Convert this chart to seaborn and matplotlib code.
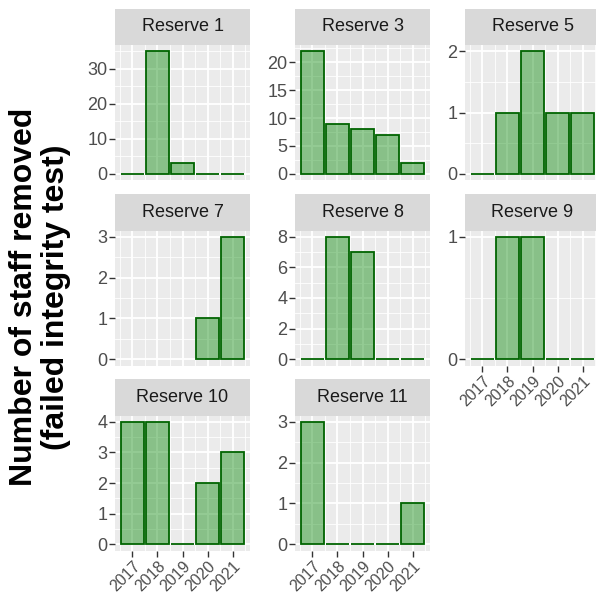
import numpy as np
import pandas as pd
import matplotlib
matplotlib.use("Agg")
import matplotlib.pyplot as plt
import seaborn as sns

plt.rcParams["font.family"] = ["Liberation Sans", "DejaVu Sans"]

# ---- data -------------------------------------------------------------
years = [2017, 2018, 2019, 2020, 2021]
reserves = ["Reserve 1", "Reserve 3", "Reserve 5", "Reserve 7",
            "Reserve 8", "Reserve 9", "Reserve 10", "Reserve 11"]

reserve_1 = [0, 35, 3, 0, 0]
reserve_3 = [22, 9, 8, 7, 2]
reserve_5 = [0, 1, 2, 1, 1]
reserve_7_years = [2020, 2021]
reserve_7 = [1, 3]
reserve_8 = [0, 8, 7, 0, 0]
reserve_9 = [0, 1, 1, 0, 0]
reserve_10 = [4, 4, 0, 2, 3]
reserve_11 = [3, 0, 0, 0, 1]

series = {
    "Reserve 1": (years, reserve_1),
    "Reserve 3": (years, reserve_3),
    "Reserve 5": (years, reserve_5),
    "Reserve 7": (reserve_7_years, reserve_7),
    "Reserve 8": (years, reserve_8),
    "Reserve 9": (years, reserve_9),
    "Reserve 10": (years, reserve_10),
    "Reserve 11": (years, reserve_11),
}

rows = []
for name in reserves:
    yrs, vals = series[name]
    for yr, v in zip(yrs, vals):
        rows.append({"reserve": name, "year": yr, "removed": v})
df = pd.DataFrame(rows)

# y-axis break spacing for each facet (free y scales)
y_step = {"Reserve 1": 10, "Reserve 3": 5, "Reserve 5": 1, "Reserve 7": 1,
          "Reserve 8": 2, "Reserve 9": 1, "Reserve 10": 1, "Reserve 11": 1}

# ---- layout (pixels) --------------------------------------------------
W, H = 596, 598
fig = plt.figure(figsize=(W / 100, H / 100), dpi=100)
fig.patch.set_facecolor("white")

col_left = [115, 295, 465]
panel_w = 135
row_top = [45, 230.5, 415.5]
panel_h = 135
strip_h = 36.5

fill_rgba = (0.0, 0.52, 0.0, 0.42)
edge_col = "#006400"
bg = "#EBEBEB"

bottom_panels = {"Reserve 9", "Reserve 10", "Reserve 11"}

for i, name in enumerate(reserves):
    r, c = divmod(i, 3)
    x0 = col_left[c]
    y0 = row_top[r]
    ax = fig.add_axes([x0 / W, 1 - (y0 + panel_h) / H, panel_w / W, panel_h / H])
    sub = df[df["reserve"] == name]
    sns.barplot(data=sub, x="year", y="removed", native_scale=True, ax=ax,
                width=0.9, color="green", errorbar=None, zorder=3)
    for p in ax.patches:
        p.set_facecolor(fill_rgba)
        p.set_edgecolor(edge_col)
        p.set_linewidth(1.3)

    ymax = sub["removed"].max()
    ax.set_ylim(-0.05 * ymax, 1.05 * ymax)
    step = y_step[name]
    major = np.arange(0, ymax + 1e-9, step)
    minor = np.arange(-step / 2, ymax + step, step)
    lo, hi = ax.get_ylim()
    minor = minor[(minor > lo) & (minor < hi)]
    ax.set_yticks(major)
    ax.set_yticklabels([f"{int(v)}" for v in major])
    ax.set_yticks(minor, minor=True)

    ax.set_xlim(2016.305, 2021.695)
    ax.set_xticks(years)
    ax.set_xticks(np.arange(2016.5, 2022, 1.0), minor=True)

    ax.set_facecolor(bg)
    for s in ax.spines.values():
        s.set_visible(False)
    ax.set_axisbelow(True)
    ax.grid(which="major", color="white", linewidth=1.3, zorder=0)
    ax.grid(which="minor", color="white", linewidth=0.6, zorder=0)
    ax.set_xlabel("")
    ax.set_ylabel("")

    ax.tick_params(which="minor", length=0)
    ax.tick_params(axis="y", which="major", length=4, width=1.0,
                   color="#333333", labelcolor="#4D4D4D", labelsize=13, pad=1.5)
    if name in bottom_panels:
        ax.tick_params(axis="x", which="major", length=4, width=1.0,
                       color="#333333", labelcolor="#4D4D4D", labelsize=11.5, pad=2)
        ax.set_xticklabels([str(y) for y in years], rotation=45,
                           ha="right", va="top", rotation_mode="anchor")
    else:
        ax.tick_params(axis="x", which="major", length=0, labelbottom=False)

    # facet strip
    sax = fig.add_axes([x0 / W, 1 - y0 / H, panel_w / W, strip_h / H])
    sax.set_facecolor("#D9D9D9")
    sax.set_xticks([])
    sax.set_yticks([])
    for s in sax.spines.values():
        s.set_visible(False)
    sax.text(0.5, 0.5, name, ha="center", va="center", fontsize=13,
             color="#1A1A1A", transform=sax.transAxes)

fig.text(40 / W, 1 - 297 / H, "Number of staff removed\n(failed integrity test)",
         rotation=90, ha="center", va="center", fontsize=23, fontweight="bold",
         linespacing=1.05, color="black")

fig.savefig("out.png", dpi=100)
